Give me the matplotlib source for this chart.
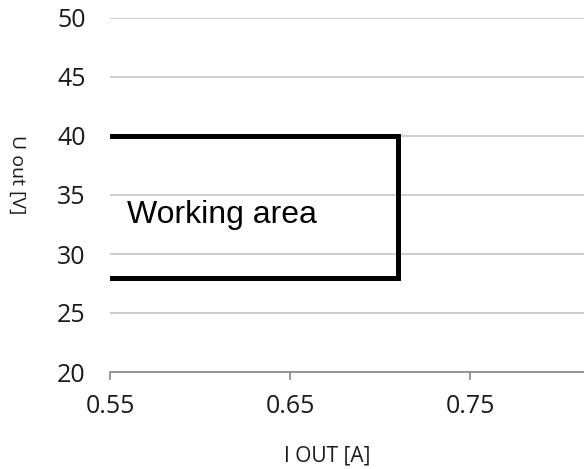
import matplotlib.pyplot as plt

# working area outline (I out [A], U out [V])
area_i = [0.55, 0.71, 0.71, 0.55]
area_u = [40, 40, 28, 28]

x_ticks = [0.55, 0.65, 0.75]
x_tick_labels = ['0.55', '0.65', '0.75']
y_ticks = [20, 25, 30, 35, 40, 45, 50]

fig = plt.figure(figsize=(5.84, 4.69), dpi=100)
ax = fig.add_axes([110/584, 1 - 372/469, 474/584, 354/469])

ax.plot(area_i, area_u, color='black', lw=3.6, solid_joinstyle='miter', zorder=3)
ax.text(0.5595, 32.63, 'Working area', fontsize=23, family='Liberation Sans',
        va='baseline', ha='left', zorder=4)

ax.set_xlim(0.55, 0.8133)
ax.set_ylim(20, 50)
ax.set_xticks(x_ticks)
ax.set_xticklabels(x_tick_labels)
ax.set_yticks(y_ticks)

ax.yaxis.grid(True, color='#c0c0c0', lw=1.1)
ax.set_axisbelow(True)
for s in ['top', 'right', 'left']:
    ax.spines[s].set_visible(False)
ax.spines['bottom'].set_color('#888888')
ax.spines['bottom'].set_linewidth(1.2)

ax.tick_params(axis='y', length=0, pad=17.5, labelsize=18, labelcolor='#1a1a1a')
ax.tick_params(axis='x', length=5.5, width=1.2, color='#888888', pad=10,
               labelsize=18, labelcolor='#1a1a1a')
for lab in ax.get_xticklabels() + ax.get_yticklabels():
    lab.set_family('Open Sans')

ax.set_xlabel('I OUT [A]', fontsize=15, family='Open Sans', color='#1a1a1a',
              va='center')
ax.xaxis.set_label_coords(0.458, -0.236)
ax.set_ylabel('U out [V]', fontsize=14, family='Open Sans', color='#1a1a1a',
              rotation=270, va='center')
ax.yaxis.set_label_coords(-0.196, 0.556)

fig.savefig('out.png', dpi=100)
